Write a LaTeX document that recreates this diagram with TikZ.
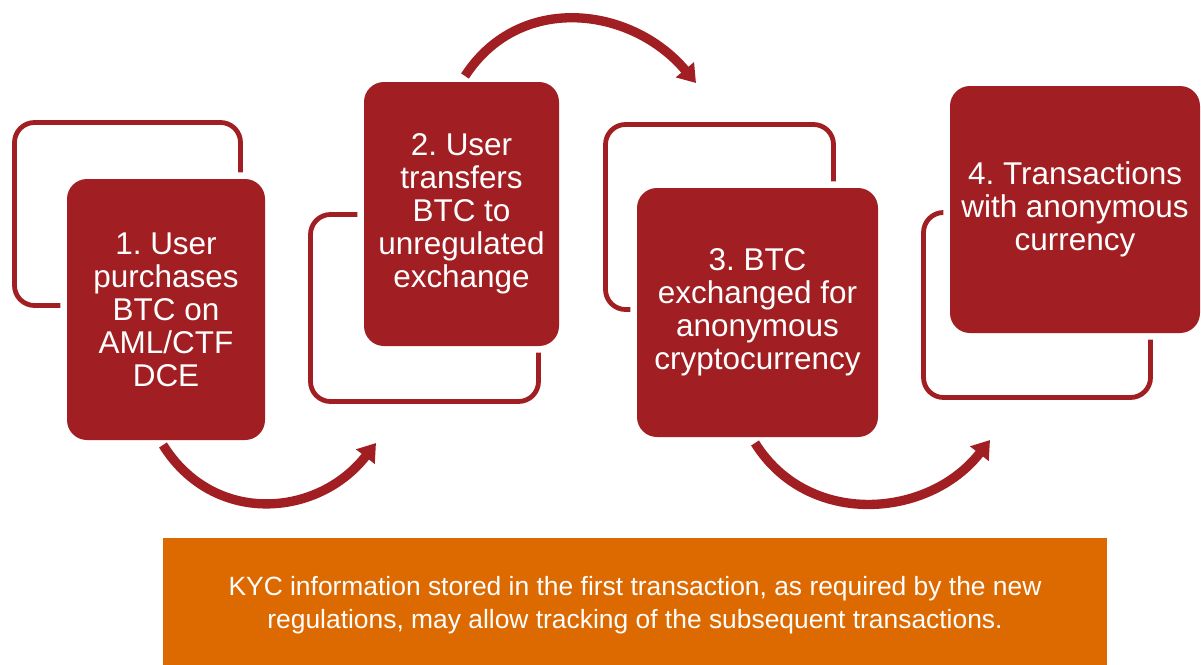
\documentclass[tikz,border=0pt]{standalone}
\usepackage{fontspec}
\setmainfont{Liberation Sans}
\frenchspacing
\usetikzlibrary{arrows.meta}
\definecolor{stepred}{RGB}{161,31,34}
\definecolor{noteorange}{RGB}{221,106,0}
\tikzstyle{stepbox} = [rectangle, rounded corners=15pt, inner sep=0pt, align=center, text=white, fill=stepred, preaction={draw=white, line width=10pt}, font=\fontsize{23.6}{24.75}\selectfont]
\tikzstyle{frame} = [rectangle, rounded corners=15pt, inner sep=0pt, draw=stepred, line width=3.6pt]
\tikzstyle{arrow} = [draw=stepred, line width=7pt, -{Triangle[width=17pt,length=13pt]}]
\tikzstyle{note} = [rectangle, inner sep=0pt, align=center, text=white, fill=noteorange, font=\fontsize{19.8}{24.75}\selectfont]

\begin{document}
\begin{tikzpicture}[x=0.75pt, y=-0.75pt]
	\useasboundingbox (0,0) rectangle (1201,664);

	\node (f1) [frame, minimum width=169.5pt, minimum height=137.25pt] at (127.5,214) {};
	\node (b1) [stepbox, minimum width=148.5pt, minimum height=195.75pt] at (166,309.5) {1. User\\purchases\\BTC on\\AML/CTF\\DCE};

	\node (f2) [frame, minimum width=171pt, minimum height=140.25pt] at (424.5,308) {};
	\node (b2) [stepbox, minimum width=146.25pt, minimum height=198pt] at (461.5,214) {2. User\\transfers\\BTC to\\unregulated\\exchange};

	\node (f3) [frame, minimum width=171pt, minimum height=138.75pt] at (719.5,217) {};
	\node (b3) [stepbox, minimum width=180.75pt, minimum height=186.75pt] at (757.5,312.5) {3. BTC\\exchanged for\\anonymous\\cryptocurrency};

	\node (f4) [frame, minimum width=170.25pt, minimum height=138.75pt] at (1037,305) {};
	\node (b4) [stepbox, minimum width=187.5pt, minimum height=185.25pt] at (1075,209.5) {4. Transactions\\with anonymous\\currency};

	\node (kyc) [note, minimum width=708pt, minimum height=100.5pt] at (635,605) {KYC information stored in the first transaction, as required by the new\\regulations, may allow tracking of the subsequent transactions.};

	% curved arrows between the steps
	\coordinate (a1s) at (163,445);
	\coordinate (a1e) at (376,443);
	\coordinate (a2s) at (465,76);
	\coordinate (a2e) at (696,83);
	\coordinate (a3s) at (755,443);
	\coordinate (a3e) at (990,440);
	\draw [arrow] (a1s) .. controls +(58:95) and +(128:95) .. (a1e);
	\draw [arrow] (a2s) .. controls +(-57:100) and +(-130:100) .. (a2e);
	\draw [arrow] (a3s) .. controls +(58:100) and +(128:100) .. (a3e);
\end{tikzpicture}
\end{document}
